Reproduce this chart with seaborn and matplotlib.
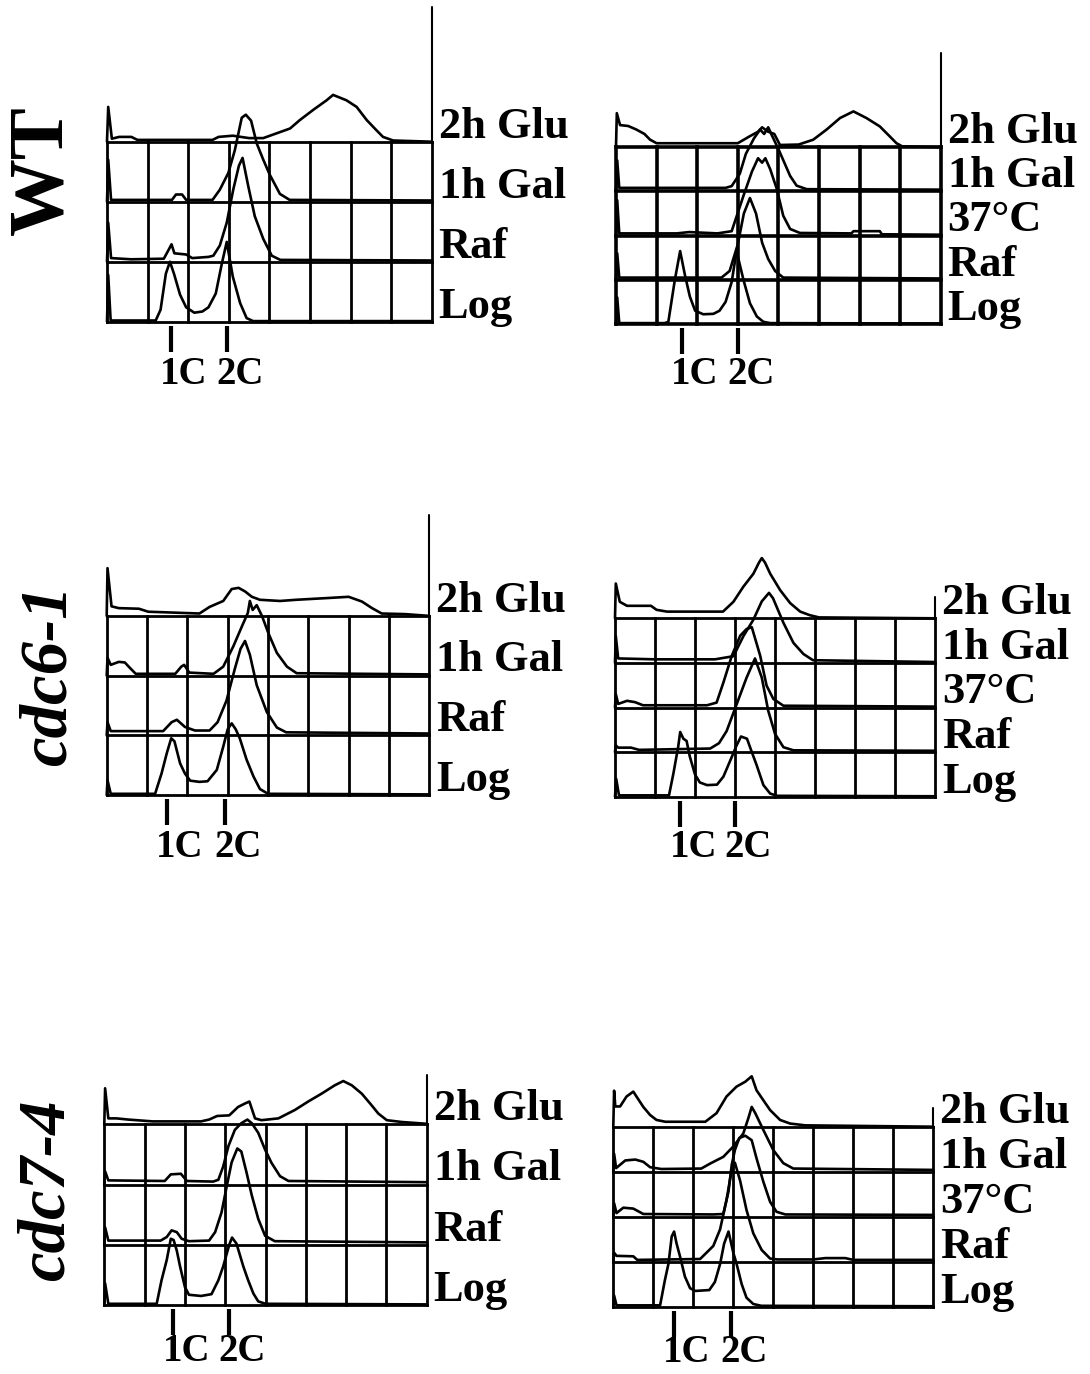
import numpy as np
import pandas as pd
import matplotlib
matplotlib.use("Agg")
import matplotlib.pyplot as plt
import seaborn as sns

sns.set_theme(style="white")
plt.rcParams['font.family'] = ['Liberation Serif', 'DejaVu Serif']
plt.rcParams['text.color'] = 'black'

W, H, DPI = 1090, 1374, 100

# ---------------- data ----------------
# x: DNA content in histogram-grid cells (8 cells across)
# y: cell count in units of one row height above that trace's baseline
STRAINS = ["WT", "cdc6-1", "cdc7-4"]
ROWS_GLU = ["Log", "Raf", "1h Gal", "2h Glu"]
ROWS_37 = ["Log", "Raf", "37°C", "1h Gal", "2h Glu"]
PEAK_LABELS = ["1C", "2C"]

# WT, glucose / galactose series
A_LOG = [(0,0),(0.03,0.78),(0.09,0.02),(1.2,0.02),(1.32,0.2),(1.45,0.8),(1.55,1.0),(1.65,0.8),(1.8,0.45),(1.95,0.24),(2.15,0.15),(2.35,0.17),(2.5,0.24),(2.68,0.47),(2.83,0.97),(2.95,1.33),(3.1,0.75),(3.28,0.31),(3.44,0.06),(3.6,0.01),(8,0.01)]
A_RAF = [(0,0),(0.03,0.65),(0.1,0.06),(0.6,0.04),(1.4,0.05),(1.52,0.2),(1.59,0.29),(1.66,0.14),(1.95,0.12),(2.1,0.06),(2.5,0.08),(2.62,0.1),(2.78,0.27),(2.95,0.65),(3.11,1.2),(3.25,1.6),(3.34,1.73),(3.48,1.26),(3.64,0.76),(3.85,0.38),(4.06,0.1),(4.27,0.03),(8,0.02)]
A_GAL = [(0,0),(0.03,0.7),(0.1,0.03),(1.6,0.03),(1.7,0.12),(1.85,0.12),(1.95,0.03),(2.6,0.03),(2.78,0.2),(2.99,0.48),(3.15,0.86),(3.32,1.4),(3.42,1.45),(3.55,1.35),(3.69,0.97),(3.85,0.70),(4.01,0.45),(4.26,0.13),(4.5,0.03),(8,0.02)]
A_GLU = [(0,0),(0.03,0.58),(0.12,0.05),(0.3,0.08),(0.6,0.08),(0.75,0.03),(2.6,0.03),(2.75,0.08),(3.1,0.1),(3.5,0.06),(3.85,0.06),(4.18,0.14),(4.51,0.22),(4.75,0.36),(5.08,0.53),(5.41,0.69),(5.57,0.78),(5.9,0.69),(6.15,0.58),(6.4,0.36),(6.64,0.19),(6.8,0.08),(7.05,0.02),(8,0.0)]
A_TICKS = [1.57, 2.95]

# WT, with 37°C step
B_LOG = [(0,0),(0.03,0.6),(0.08,0.02),(1.2,0.02),(1.29,0.05),(1.45,1.0),(1.58,1.65),(1.7,1.1),(1.82,0.62),(1.95,0.3),(2.15,0.22),(2.4,0.23),(2.55,0.3),(2.7,0.5),(2.85,0.95),(2.97,1.65),(3.14,1.0),(3.3,0.47),(3.47,0.17),(3.63,0.05),(3.8,0.02),(8,0.01)]
B_RAF = [(0,0),(0.03,0.6),(0.08,0.05),(2.6,0.05),(2.8,0.2),(3.0,0.8),(3.15,1.5),(3.3,1.85),(3.45,1.5),(3.6,0.84),(3.75,0.47),(3.92,0.2),(4.12,0.05),(8,0.03)]
B_37C = [(0,0),(0.03,0.8),(0.08,0.05),(1.5,0.05),(1.8,0.08),(2.5,0.05),(2.85,0.1),(3.14,0.9),(3.35,1.45),(3.5,1.75),(3.6,1.65),(3.68,1.75),(3.8,1.5),(3.96,1.06),(4.12,0.45),(4.29,0.15),(4.53,0.06),(5.8,0.05),(5.85,0.1),(6.5,0.1),(6.55,0.03),(8,0.02)]
B_GAL = [(0,0),(0.03,0.7),(0.08,0.08),(2.7,0.08),(2.85,0.12),(3.05,0.4),(3.2,0.85),(3.4,1.2),(3.55,1.4),(3.65,1.3),(3.75,1.45),(3.85,1.25),(4.02,0.92),(4.29,0.35),(4.45,0.13),(4.7,0.05),(8,0.04)]
B_GLU = [(0,0),(0.02,0.77),(0.1,0.5),(0.3,0.48),(0.5,0.4),(0.7,0.3),(0.84,0.17),(1.0,0.09),(3.0,0.09),(3.3,0.25),(3.5,0.35),(3.6,0.45),(3.75,0.35),(3.9,0.3),(4.04,0.05),(4.5,0.06),(4.86,0.17),(5.19,0.4),(5.52,0.66),(5.85,0.81),(6.17,0.66),(6.5,0.47),(6.75,0.24),(6.91,0.09),(7.05,0.02),(8,0.0)]
B_TICKS = [1.62, 3.01]

# cdc6-1
C_LOG = [(0,0),(0.02,0.25),(0.1,0.02),(1.2,0.02),(1.36,0.36),(1.49,0.7),(1.6,0.95),(1.68,0.9),(1.82,0.53),(1.94,0.36),(2.07,0.24),(2.3,0.22),(2.5,0.23),(2.73,0.42),(2.89,0.81),(3.0,1.1),(3.1,1.2),(3.2,1.1),(3.3,0.95),(3.47,0.59),(3.64,0.31),(3.8,0.1),(4.0,0.02),(8,0.01)]
C_RAF = [(0,0),(0.02,0.22),(0.1,0.07),(1.4,0.07),(1.61,0.22),(1.74,0.26),(1.94,0.14),(2.19,0.08),(2.55,0.08),(2.75,0.22),(2.97,0.58),(3.18,1.12),(3.32,1.45),(3.43,1.58),(3.55,1.35),(3.72,0.84),(3.97,0.39),(4.22,0.13),(4.45,0.05),(8,0.03)]
C_GAL = [(0,0),(0.02,0.3),(0.1,0.18),(0.3,0.23),(0.45,0.22),(0.56,0.14),(0.72,0.03),(1.7,0.03),(1.85,0.15),(1.92,0.18),(2.05,0.05),(2.65,0.03),(2.89,0.15),(3.14,0.49),(3.35,0.82),(3.5,1.05),(3.55,1.25),(3.62,1.1),(3.72,1.18),(3.85,1.0),(4.01,0.71),(4.22,0.38),(4.47,0.15),(4.71,0.04),(8,0.02)]
C_GLU = [(0,0),(0.02,0.8),(0.12,0.16),(0.3,0.13),(0.8,0.12),(1.03,0.07),(2.3,0.04),(2.55,0.15),(2.89,0.25),(3.1,0.45),(3.27,0.47),(3.43,0.41),(3.6,0.32),(3.8,0.27),(4.3,0.25),(4.7,0.27),(5.5,0.3),(6.0,0.32),(6.33,0.24),(6.58,0.13),(6.82,0.04),(7.4,0.03),(8,0.0)]
C_TICKS = [1.49, 2.94]

D_LOG = [(0,0),(0.03,0.4),(0.1,0.03),(1.35,0.03),(1.46,0.52),(1.58,1.12),(1.63,1.45),(1.71,1.3),(1.79,1.25),(1.87,0.9),(2.0,0.5),(2.12,0.32),(2.3,0.26),(2.55,0.27),(2.71,0.45),(2.9,0.85),(3.04,1.15),(3.15,1.35),(3.3,1.3),(3.4,1.05),(3.54,0.71),(3.71,0.26),(3.88,0.07),(4.05,0.02),(8,0.01)]
D_RAF = [(0,0),(0.02,0.15),(0.08,0.1),(0.4,0.1),(0.6,0.05),(2.38,0.08),(2.6,0.2),(2.79,0.47),(3.04,1.07),(3.29,1.67),(3.5,2.1),(3.67,1.67),(3.83,0.93),(4.0,0.41),(4.21,0.11),(4.46,0.04),(8,0.03)]
D_37C = [(0,0),(0.02,0.3),(0.08,0.08),(0.3,0.15),(0.5,0.12),(0.7,0.05),(2.3,0.05),(2.54,0.11),(2.71,0.56),(2.92,1.16),(3.13,1.61),(3.29,1.76),(3.42,1.8),(3.63,1.16),(3.79,0.49),(3.96,0.19),(4.21,0.04),(8,0.02)]
D_GAL = [(0,0),(0.02,0.6),(0.08,0.1),(1.0,0.08),(2.5,0.08),(2.96,0.15),(3.21,0.6),(3.46,0.97),(3.67,1.38),(3.85,1.57),(3.95,1.45),(4.21,0.9),(4.46,0.45),(4.71,0.2),(4.95,0.06),(8,0.02)]
D_GLU = [(0,0),(0.02,0.78),(0.12,0.37),(0.3,0.28),(0.9,0.28),(1.04,0.19),(1.3,0.15),(2.7,0.15),(2.96,0.37),(3.21,0.71),(3.46,1.0),(3.6,1.25),(3.67,1.35),(3.75,1.25),(3.88,1.0),(4.13,0.63),(4.38,0.34),(4.63,0.15),(4.87,0.07),(5.1,0.02),(8,0.0)]
D_TICKS = [1.63, 3.0]

# cdc7-4
E_LOG = [(0,0),(0.02,0.36),(0.1,0.02),(1.3,0.02),(1.42,0.41),(1.55,0.75),(1.65,1.1),(1.72,1.08),(1.8,0.9),(1.88,0.64),(2.0,0.3),(2.1,0.17),(2.4,0.15),(2.66,0.18),(2.83,0.41),(2.95,0.64),(3.1,1.0),(3.17,1.12),(3.28,1.02),(3.45,0.64),(3.57,0.41),(3.7,0.19),(3.82,0.06),(4.0,0.02),(8,0.01)]
E_RAF = [(0,0),(0.02,0.29),(0.1,0.07),(1.4,0.07),(1.55,0.13),(1.67,0.24),(1.8,0.21),(1.92,0.1),(2.1,0.06),(2.6,0.07),(2.75,0.21),(2.91,0.54),(3.04,0.98),(3.16,1.37),(3.3,1.6),(3.4,1.55),(3.53,1.2),(3.66,0.82),(3.82,0.43),(3.99,0.15),(4.23,0.06),(8,0.04)]
E_GAL = [(0,0),(0.02,0.22),(0.1,0.07),(1.5,0.06),(1.65,0.17),(1.9,0.18),(2.05,0.06),(2.7,0.05),(2.83,0.08),(2.95,0.3),(3.08,0.64),(3.24,0.91),(3.4,1.02),(3.55,1.08),(3.66,1.02),(3.82,0.86),(3.99,0.58),(4.15,0.36),(4.36,0.14),(4.57,0.06),(8,0.04)]
E_GLU = [(0,0),(0.02,0.6),(0.1,0.1),(0.3,0.1),(0.6,0.08),(1.2,0.05),(2.4,0.05),(2.6,0.08),(2.8,0.14),(3.1,0.15),(3.32,0.29),(3.5,0.35),(3.6,0.38),(3.74,0.1),(3.9,0.07),(4.32,0.1),(4.73,0.24),(5.06,0.38),(5.39,0.51),(5.72,0.65),(5.93,0.72),(6.14,0.65),(6.39,0.51),(6.63,0.32),(6.8,0.18),(7.01,0.07),(7.38,0.04),(8,0.01)]
E_TICKS = [1.71, 3.1]

F_LOG = [(0,0),(0.02,0.25),(0.08,0.03),(1.17,0.03),(1.29,0.59),(1.38,0.96),(1.46,1.56),(1.52,1.67),(1.58,1.41),(1.67,1.11),(1.79,0.67),(1.92,0.41),(2.05,0.35),(2.4,0.37),(2.54,0.55),(2.67,0.95),(2.77,1.4),(2.88,1.67),(3.0,1.2),(3.08,0.96),(3.21,0.5),(3.33,0.2),(3.5,0.06),(3.7,0.02),(8,0.01)]
F_RAF = [(0,0),(0.02,0.2),(0.08,0.13),(0.5,0.12),(0.6,0.04),(2.17,0.06),(2.33,0.2),(2.5,0.35),(2.67,0.72),(2.83,1.37),(2.96,2.04),(3.04,2.2),(3.17,1.8),(3.33,1.15),(3.5,0.63),(3.71,0.26),(3.92,0.07),(4.1,0.05),(5.0,0.05),(5.3,0.08),(5.8,0.08),(6.0,0.04),(8,0.04)]
F_37C = [(0,0),(0.02,0.3),(0.08,0.08),(0.25,0.2),(0.5,0.18),(0.75,0.06),(2.5,0.05),(2.75,0.06),(2.88,0.56),(2.96,1.15),(3.04,1.48),(3.15,1.75),(3.3,1.8),(3.46,1.7),(3.58,1.3),(3.75,0.78),(3.92,0.33),(4.08,0.11),(4.3,0.05),(8,0.04)]
F_GAL = [(0,0),(0.02,0.4),(0.07,0.08),(0.3,0.25),(0.55,0.27),(0.75,0.22),(0.92,0.1),(1.2,0.06),(2.2,0.07),(2.42,0.18),(2.75,0.33),(3.0,0.56),(3.25,0.85),(3.38,1.2),(3.46,1.44),(3.55,1.3),(3.75,0.93),(4.0,0.48),(4.25,0.19),(4.5,0.07),(8,0.04)]
F_GLU = [(0,0),(0.02,0.8),(0.05,0.45),(0.17,0.45),(0.33,0.67),(0.5,0.78),(0.58,0.67),(0.75,0.44),(0.92,0.26),(1.08,0.15),(1.3,0.11),(2.3,0.11),(2.58,0.3),(2.83,0.67),(3.08,0.89),(3.3,1.0),(3.46,1.12),(3.58,0.81),(3.75,0.59),(3.92,0.37),(4.17,0.15),(4.42,0.07),(4.8,0.03),(8,0.0)]
F_TICKS = [1.52, 2.94]

# ---------------- layout (pixels) ----------------
# left, right, baseline of bottom row, row height, top of right frame (rows),
# grid line width, offset of the 1C/2C label baseline below the bottom row
PANELS = [
    (dict(l=107.0, r=431.7, y0=321.7, h=60.0, top=5.25, glw=2.0, lab=62), ROWS_GLU, [A_LOG, A_RAF, A_GAL, A_GLU], A_TICKS),
    (dict(l=616.0, r=940.7, y0=324.0, h=44.2, top=6.14, glw=2.6, lab=60), ROWS_37, [B_LOG, B_RAF, B_37C, B_GAL, B_GLU], B_TICKS),
    (dict(l=106.7, r=429.3, y0=795.0, h=59.7, top=4.69, glw=2.0, lab=62), ROWS_GLU, [C_LOG, C_RAF, C_GAL, C_GLU], C_TICKS),
    (dict(l=615.0, r=935.0, y0=796.7, h=44.6, top=4.48, glw=2.0, lab=60), ROWS_37, [D_LOG, D_RAF, D_37C, D_GAL, D_GLU], D_TICKS),
    (dict(l=104.3, r=426.7, y0=1305.0, h=60.2, top=3.82, glw=2.0, lab=56), ROWS_GLU, [E_LOG, E_RAF, E_GAL, E_GLU], E_TICKS),
    (dict(l=613.3, r=933.3, y0=1306.7, h=45.0, top=4.41, glw=2.0, lab=55), ROWS_37, [F_LOG, F_RAF, F_37C, F_GAL, F_GLU], F_TICKS),
]

fig = plt.figure(figsize=(W / DPI, H / DPI), dpi=DPI)
fig.patch.set_facecolor("white")

PX2PT = 72.0 / DPI

for geo, rows, traces, ticks in PANELS:
    n = len(rows)
    ymax = max(geo["top"], max(i + max(v for _, v in tr) for i, tr in enumerate(traces))) + 0.15
    ax = fig.add_axes([geo["l"] / W, 1 - geo["y0"] / H,
                       (geo["r"] - geo["l"]) / W, ymax * geo["h"] / H])
    # frame grid
    for i in range(n):
        ax.plot([0, 8], [i, i], color="black", lw=geo["glw"], solid_capstyle="projecting", zorder=1)
    for j in range(9):
        ax.plot([j, j], [0, n - 1], color="black", lw=geo["glw"], solid_capstyle="projecting", zorder=1)
    ax.plot([8, 8], [n - 1, geo["top"]], color="black", lw=1.5, zorder=1)

    # histogram traces
    frames = []
    for i, (name, tr) in enumerate(zip(rows, traces)):
        xs = [p[0] for p in tr]
        ys = [p[1] + i for p in tr]
        frames.append(pd.DataFrame({"x": xs, "y": ys, "row": name}))
    df = pd.concat(frames, ignore_index=True)
    sns.lineplot(data=df, x="x", y="y", units="row", estimator=None, sort=False,
                 color="black", lw=1.9, ax=ax, legend=False, zorder=3)

    # row labels
    for i, name in enumerate(rows):
        ax.annotate(name, xy=(8, i), xytext=(5.0, 3.0), textcoords="offset points",
                    ha="left", va="baseline", fontsize=32, fontweight="bold",
                    color="black", annotation_clip=False)

    # 1C / 2C ticks
    for t, lab in zip(ticks, PEAK_LABELS):
        ax.plot([t, t], [-4 / geo["h"], -30 / geo["h"]], color="black", lw=3.0,
                solid_capstyle="butt", clip_on=False)
        ax.annotate(lab, xy=(t, 0), xytext=(13 * PX2PT, -geo["lab"] * PX2PT),
                    textcoords="offset points", ha="center", va="baseline",
                    fontsize=28, fontweight="bold", color="black", annotation_clip=False)

    ax.set_xlim(0, 8)
    ax.set_ylim(0, ymax)
    ax.axis("off")
    for line in ax.lines:
        line.set_clip_on(False)
        line.set_solid_joinstyle("round")

# strain labels
fig.text(43 / W, 1 - 170 / H, STRAINS[0], rotation=90, ha="center", va="center",
         fontsize=56, fontweight="bold", color="black")
fig.text(49 / W, 1 - 675 / H, STRAINS[1], rotation=90, ha="center", va="center",
         fontsize=48, fontweight="bold", fontstyle="italic", color="black")
fig.text(47 / W, 1 - 1190 / H, STRAINS[2], rotation=90, ha="center", va="center",
         fontsize=48, fontweight="bold", fontstyle="italic", color="black")

fig.savefig("out.png", dpi=DPI, facecolor="white")
